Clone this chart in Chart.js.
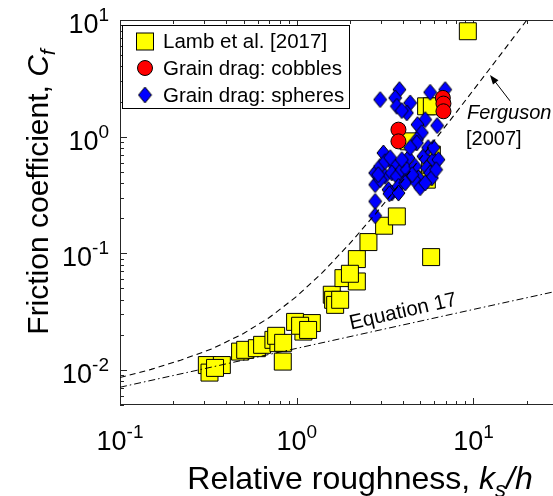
<!DOCTYPE html>
<html>
<head>
<meta charset="utf-8">
<script src="https://cdn.jsdelivr.net/npm/chart.js@4.4.1/dist/chart.umd.min.js"></script>
<style>
    html, body { margin: 0; padding: 0; background: #fff; overflow: hidden; }
    canvas { display: block; }
</style>
</head>
<body>
<canvas id="cfChart" width="553" height="496"></canvas>
<script>
// Friction coefficient vs relative roughness (log-log)

// Lamb et al. [2017] measurements
const lambX = [0.310, 0.377, 0.321, 0.345, 0.478, 0.511, 0.595, 0.637, 0.738, 0.788, 0.834, 0.765, 0.838,
    0.979, 1.091, 1.218, 1.045, 1.16, 1.579, 1.607, 1.650, 1.761, 1.838, 2.189, 2.189, 2.0, 2.546, 3.123,
    3.686, 5.763, 9.296, 5.398, 5.816, 4.30, 5.816, 5.448, 5.69];
const lambY = [0.0110, 0.0110, 0.00948, 0.0104, 0.01435, 0.01486, 0.01535, 0.0164, 0.0181, 0.01695, 0.01178, 0.0196, 0.01706,
    0.0258, 0.0213, 0.0252, 0.0239, 0.0220, 0.0441, 0.0399, 0.0361, 0.0399, 0.0612, 0.0573, 0.0891, 0.0667, 0.1247, 0.1722,
    0.207, 0.0927, 8.01, 1.82, 1.82, 0.911, 0.701, 0.4276, 0.575];

// Grain drag: cobbles
const cobbleX = [6.712, 6.765, 6.765, 3.764, 3.764];
const cobbleY = [2.149, 1.92, 1.649, 1.148, 0.911];

// Grain drag: spheres
const sphereX = [2.965, 3.813, 3.605, 4.384, 3.686, 4.199, 3.934, 5.689, 6.917, 5.330, 4.821, 6.231, 5.105, 4.783,
    3.095, 2.778, 2.965, 3.164, 3.526, 3.453, 3.686, 3.934, 4.287, 4.199, 4.107, 4.679, 4.883, 5.212, 5.449, 5.689,
    5.937, 6.337, 5.816, 2.778, 3.304, 3.453, 2.778, 2.965, 3.764, 4.783, 2.778, 3.347, 4.107, 4.783, 3.164, 4.499,
    5.541, 6.150, 3.378, 4.993, 5.330, 4.384, 2.889, 5.937, 3.934, 3.764];
const sphereY = [2.078, 2.532, 2.149, 1.947, 1.820, 1.598, 1.672, 2.401, 2.532, 1.399, 1.268, 1.243, 1.082, 0.942,
    0.7247, 0.488, 0.556, 0.4563, 0.5749, 0.488, 0.4563, 0.5208, 0.6565, 0.5208, 0.4133, 0.556, 0.442, 0.6776, 0.5386, 0.488,
    0.6349, 0.6349, 0.442, 0.3873, 0.3509, 0.3286, 0.2783, 0.4274, 0.3745, 0.883, 0.2099, 0.324, 0.4005, 0.4005, 0.6102, 0.4719,
    0.805, 0.5208, 0.6604, 0.3649, 0.4005, 0.805, 0.4719, 0.805, 0.6349, 0.3286];

// Ferguson [2007] curve (dashed)
const fergusonX = [0.1, 0.15, 0.22, 0.33, 0.5, 0.7, 1.0, 1.4, 2.0, 2.8, 4.0, 5.6, 8.0, 11, 15, 20.5];
const fergusonY = [0.0086, 0.0101, 0.0121, 0.0151, 0.0205, 0.0281, 0.0427, 0.0685, 0.1215, 0.219, 0.424, 0.807, 1.617, 3.03, 5.60, 10.43];

// Equation 17 (dash-dot)
const eq17X = [0.1, 1, 10, 30];
const eq17Y = [0.0071, 0.0153, 0.033, 0.0475];

// axis decades and their exponent labels
const xDecades = [0.1, 1, 10];
const xDecadeExp = ['-1', '0', '1'];
const yDecades = [0.01, 0.1, 1, 10];
const yDecadeExp = ['-2', '-1', '0', '1'];

const FONT = '"Liberation Sans", Arial, Helvetica, sans-serif';

function pairs(xs, ys) {
    return xs.map((x, i) => ({ x: x, y: ys[i] }));
}

function makeDiamond(w, h) {
    const c = document.createElement('canvas');
    c.width = w + 2;
    c.height = h + 2;
    const g = c.getContext('2d');
    g.beginPath();
    g.moveTo(c.width / 2, 1);
    g.lineTo(c.width - 1, c.height / 2);
    g.lineTo(c.width / 2, c.height - 1);
    g.lineTo(1, c.height / 2);
    g.closePath();
    g.fillStyle = '#0000ff';
    g.fill();
    g.lineWidth = 1;
    g.strokeStyle = '#000';
    g.stroke();
    return c;
}
const diamond = makeDiamond(13, 16);

// text runs like "10^-1" or "k_s/h"
function runsWidth(ctx, runs) {
    let w = 0;
    runs.forEach(r => { ctx.font = r.font; w += ctx.measureText(r.text).width; });
    return w;
}
function drawRuns(ctx, runs, x, y) {
    let cx = x;
    runs.forEach(r => {
        ctx.font = r.font;
        ctx.fillText(r.text, cx, y + (r.dy || 0));
        cx += ctx.measureText(r.text).width;
    });
}
function powRuns(exp) {
    return [
        { text: '10', font: '27px ' + FONT },
        { text: exp, font: '19px ' + FONT, dy: -12 }
    ];
}

const axesPlugin = {
    id: 'boxAxes',
    beforeDatasetsDraw(chart) {
        const { ctx, chartArea: a, scales } = chart;
        const xs = scales.x, ys = scales.y;
        ctx.save();
        ctx.strokeStyle = '#262626';
        ctx.lineWidth = 1;
        ctx.beginPath();
        ctx.moveTo(a.right + 5, a.top + 0.5);
        ctx.lineTo(a.left + 0.5, a.top + 0.5);
        ctx.lineTo(a.left + 0.5, a.bottom - 0.5);
        ctx.lineTo(a.right + 5, a.bottom - 0.5);
        ctx.stroke();

        // inward tick marks, major and minor
        ctx.beginPath();
        [0.1, 1, 10].forEach(d => {
            for (let k = 1; k <= 9; k++) {
                const v = d * k;
                if (v < xs.min || v > xs.max) continue;
                const px = Math.round(xs.getPixelForValue(v)) + 0.5;
                const len = k === 1 ? 7 : 4;
                ctx.moveTo(px, a.bottom);
                ctx.lineTo(px, a.bottom - len);
                ctx.moveTo(px, a.top);
                ctx.lineTo(px, a.top + len);
            }
        });
        [0.001, 0.01, 0.1, 1, 10].forEach(d => {
            for (let k = 1; k <= 9; k++) {
                const v = d * k;
                if (v < ys.min || v > ys.max) continue;
                const py = Math.round(ys.getPixelForValue(v)) + 0.5;
                const len = k === 1 ? 7 : 4;
                ctx.moveTo(a.left, py);
                ctx.lineTo(a.left + len, py);
            }
        });
        ctx.stroke();

        // tick labels
        ctx.fillStyle = '#000';
        ctx.textBaseline = 'alphabetic';
        ctx.textAlign = 'left';
        xDecades.forEach((v, i) => {
            const runs = powRuns(xDecadeExp[i]);
            const w = runsWidth(ctx, runs);
            drawRuns(ctx, runs, xs.getPixelForValue(v) - w / 2, 450);
        });
        yDecades.forEach((v, i) => {
            const runs = powRuns(yDecadeExp[i]);
            const w = runsWidth(ctx, runs);
            drawRuns(ctx, runs, 109 - w, ys.getPixelForValue(v) + 13);
        });

        // axis titles
        const xTitle = [
            { text: 'Relative roughness, ', font: '32px ' + FONT },
            { text: 'k', font: 'italic 32px ' + FONT },
            { text: 's', font: 'italic 22px ' + FONT, dy: 8 },
            { text: '/h', font: 'italic 32px ' + FONT }
        ];
        const xw = runsWidth(ctx, xTitle);
        drawRuns(ctx, xTitle, 360 - xw / 2, 489);

        const yTitle = [
            { text: 'Friction coefficient, ', font: '30px ' + FONT },
            { text: 'C', font: 'italic 30px ' + FONT },
            { text: 'f', font: 'italic 21px ' + FONT, dy: 7 }
        ];
        const yw = runsWidth(ctx, yTitle);
        ctx.translate(48, 192);
        ctx.rotate(-Math.PI / 2);
        drawRuns(ctx, yTitle, -yw / 2, 0);
        ctx.restore();
    }
};

const notesPlugin = {
    id: 'notes',
    afterDraw(chart) {
        const { ctx, scales } = chart;
        ctx.save();
        ctx.fillStyle = '#000';
        ctx.textBaseline = 'alphabetic';

        // Ferguson label with arrow to the dashed curve
        ctx.font = 'italic 20px ' + FONT;
        ctx.fillText('Ferguson', 467, 119);
        ctx.font = '20px ' + FONT;
        ctx.fillText('[2007]', 466, 145);
        const tipX = 490, tipY = 75, tailX = 510, tailY = 101;
        const ang = Math.atan2(tailY - tipY, tailX - tipX);
        ctx.strokeStyle = '#000';
        ctx.lineWidth = 1;
        ctx.beginPath();
        ctx.moveTo(tailX, tailY);
        ctx.lineTo(tipX + Math.cos(ang) * 6, tipY + Math.sin(ang) * 6);
        ctx.stroke();
        ctx.beginPath();
        ctx.moveTo(tipX, tipY);
        ctx.lineTo(tipX + Math.cos(ang + 0.35) * 10, tipY + Math.sin(ang + 0.35) * 10);
        ctx.lineTo(tipX + Math.cos(ang - 0.35) * 10, tipY + Math.sin(ang - 0.35) * 10);
        ctx.closePath();
        ctx.fill();

        // Equation 17 label along the dash-dot line
        ctx.translate(scales.x.getPixelForValue(4.0), scales.y.getPixelForValue(0.0315));
        ctx.rotate(-12.8 * Math.PI / 180);
        ctx.font = '20.5px ' + FONT;
        ctx.textAlign = 'center';
        ctx.textBaseline = 'middle';
        ctx.fillText('Equation 17', 0, 0);
        ctx.restore();

        // legend box
        ctx.save();
        ctx.fillStyle = '#fff';
        ctx.fillRect(122.5, 25.5, 227, 83);
        ctx.strokeStyle = '#000';
        ctx.lineWidth = 1;
        ctx.strokeRect(122.5, 25.5, 227, 83);
        const mx = 145;
        const rows = [41.5, 68, 95];
        // square
        ctx.fillStyle = '#ffff00';
        ctx.fillRect(mx - 8.5, rows[0] - 8.5, 17, 17);
        ctx.strokeRect(mx - 8.5, rows[0] - 8.5, 17, 17);
        // circle
        ctx.beginPath();
        ctx.arc(mx, rows[1], 7.5, 0, Math.PI * 2);
        ctx.fillStyle = '#ff0000';
        ctx.fill();
        ctx.stroke();
        // diamond
        ctx.drawImage(diamond, mx - diamond.width / 2, rows[2] - diamond.height / 2);
        ctx.fillStyle = '#000';
        ctx.font = '20.5px ' + FONT;
        ctx.textBaseline = 'middle';
        ctx.fillText('Lamb et al. [2017]', 163, rows[0] + 1);
        ctx.fillText('Grain drag: cobbles', 163, rows[1] + 1);
        ctx.fillText('Grain drag: spheres', 163, rows[2] + 1);
        ctx.restore();
    }
};

const ctx = document.getElementById('cfChart').getContext('2d');

const cfChart = new Chart(ctx, {
    type: 'scatter',
    data: {
        datasets: [{
            label: 'Ferguson [2007]',
            data: pairs(fergusonX, fergusonY),
            showLine: true,
            borderColor: '#000',
            borderWidth: 1.1,
            borderDash: [6, 4],
            pointRadius: 0,
            order: 0
        }, {
            label: 'Equation 17',
            data: pairs(eq17X, eq17Y),
            showLine: true,
            borderColor: '#000',
            borderWidth: 1,
            borderDash: [7, 3, 1.5, 3],
            pointRadius: 0,
            order: 1
        }, {
            label: 'Grain drag: cobbles',
            data: pairs(cobbleX, cobbleY),
            pointStyle: 'circle',
            pointRadius: 7.5,
            pointBackgroundColor: '#ff0000',
            pointBorderColor: '#000',
            pointBorderWidth: 1,
            order: 2
        }, {
            label: 'Grain drag: spheres',
            data: pairs(sphereX, sphereY),
            pointStyle: diamond,
            pointRadius: 8,
            order: 3
        }, {
            label: 'Lamb et al. [2017]',
            data: pairs(lambX, lambY),
            pointStyle: 'rect',
            pointRadius: 12,
            pointBackgroundColor: '#ffff00',
            pointBorderColor: '#000',
            pointBorderWidth: 1,
            order: 4
        }]
    },
    options: {
        responsive: false,
        animation: false,
        devicePixelRatio: 1,
        events: [],
        layout: { autoPadding: false, padding: { left: 120, top: 20, right: 0, bottom: 91 } },
        scales: {
            x: { type: 'logarithmic', min: 0.1, max: 28.2, bounds: 'data', display: false },
            y: { type: 'logarithmic', min: 0.005, max: 10, bounds: 'data', display: false }
        },
        plugins: {
            legend: { display: false },
            tooltip: { enabled: false }
        }
    },
    plugins: [axesPlugin, notesPlugin]
});
</script>
</body>
</html>
